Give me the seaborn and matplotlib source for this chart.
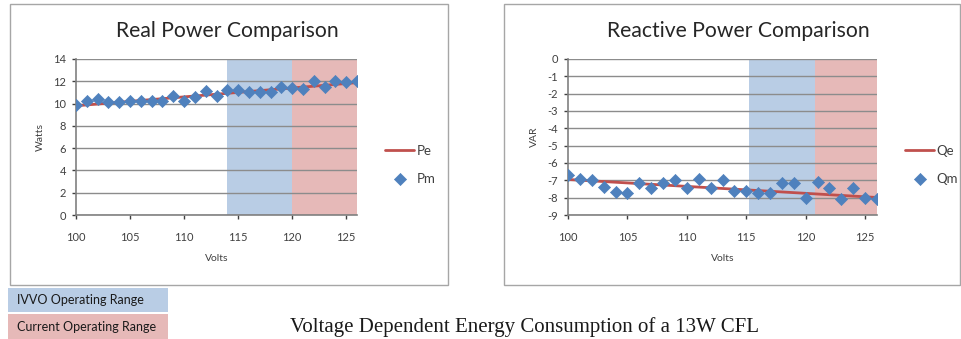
import matplotlib
matplotlib.use('Agg')
import matplotlib.pyplot as plt
from matplotlib.patches import Rectangle
import seaborn as sns
import pandas as pd

volts = list(range(100, 127))

pm = [9.9, 10.2, 10.4, 10.1, 10.1, 10.2, 10.2, 10.2, 10.2, 10.7, 10.2, 10.6, 11.1, 10.7,
      11.2, 11.2, 11.0, 11.0, 11.0, 11.5, 11.4, 11.3, 12.0, 11.5, 12.0, 11.9, 12.0]
pe = [9.80, 9.88, 9.96, 10.04, 10.12, 10.20, 10.28, 10.36, 10.44, 10.52, 10.60, 10.68, 10.76, 10.84,
      10.92, 11.00, 11.08, 11.16, 11.24, 11.32, 11.40, 11.48, 11.56, 11.64, 11.72, 11.80, 11.88]

qm = [-6.69, -6.92, -6.98, -7.37, -7.65, -7.71, -7.17, -7.46, -7.17, -6.98, -7.46, -6.92, -7.46, -6.98,
      -7.60, -7.60, -7.71, -7.71, -7.13, -7.13, -8.04, -7.08, -7.46, -8.10, -7.46, -8.00, -8.08]
qe = [-6.95, -6.99, -7.03, -7.07, -7.11, -7.15, -7.19, -7.23, -7.27, -7.31, -7.35, -7.39, -7.43, -7.47,
      -7.51, -7.55, -7.59, -7.63, -7.67, -7.71, -7.75, -7.79, -7.83, -7.87, -7.91, -7.95, -7.99]

# shaded ranges (volts) as drawn in each chart
ivvo_real = (114, 120)
curr_real = (120, 126)
ivvo_react = (115.25, 120.75)
curr_react = (120.75, 126)

df_real = pd.DataFrame({'Volts': volts, 'Pe': pe, 'Pm': pm})
df_react = pd.DataFrame({'Volts': volts, 'Qe': qe, 'Qm': qm})

sns.set_style('white')
plt.rcParams['font.family'] = ['Lato', 'DejaVu Sans']
plt.rcParams['axes.unicode_minus'] = False

BLUE = '#4f81bd'
RED = '#c0504d'
SHADE_BLUE = '#b9cde5'
SHADE_RED = '#e6b9b8'

fig = plt.figure(figsize=(9.62, 3.39), dpi=100)

# chart frames
fig.add_artist(Rectangle((10 / 962, 1 - 285 / 339), 438 / 962, 281 / 339, transform=fig.transFigure,
                         fill=False, edgecolor='#a6a6a6', lw=1))
fig.add_artist(Rectangle((504 / 962, 1 - 285 / 339), 456 / 962, 281 / 339, transform=fig.transFigure,
                         fill=False, edgecolor='#a6a6a6', lw=1))

ax1 = fig.add_axes([76 / 962, 1 - 215 / 339, 281 / 962, 156 / 339])
ax2 = fig.add_axes([568 / 962, 1 - 215 / 339, 309 / 962, 156 / 339])


def style_axis(ax, ylim, yticks, ivvo, curr, ycol_e, ycol_m, df, title, title_x, ylabel, leg_x):
    ax.axvspan(ivvo[0], ivvo[1], color=SHADE_BLUE, zorder=0.2, lw=0)
    ax.axvspan(curr[0], curr[1], color=SHADE_RED, zorder=0.2, lw=0)
    sns.lineplot(data=df, x='Volts', y=ycol_e, ax=ax, color=RED, lw=2, label=ycol_e, zorder=3)
    sns.scatterplot(data=df, x='Volts', y=ycol_m, ax=ax, color=BLUE, marker='D', s=38,
                    edgecolor=BLUE, label=ycol_m, zorder=4)
    ax.set_xlim(100, 126)
    ax.set_ylim(*ylim)
    ax.set_yticks(yticks)
    ax.set_xticks([100, 105, 110, 115, 120, 125])
    ax.set_axisbelow(True)
    ax.yaxis.grid(True, color='#8c8c8c', lw=1)
    ax.xaxis.grid(False)
    for s in ['top', 'right']:
        ax.spines[s].set_visible(False)
    for s in ['left', 'bottom']:
        ax.spines[s].set_color('#808080')
        ax.spines[s].set_linewidth(1.2)
    ax.tick_params(axis='both', labelsize=8, colors='#404040', length=3, width=1,
                   direction='out', left=True, bottom=True, pad=4)
    ax.tick_params(axis='x', pad=9)
    ax.set_title(title, fontsize=15.2, color='#262626', pad=16, x=title_x)
    ax.set_xlabel('Volts', fontsize=7.5, color='#404040', labelpad=8)
    ax.set_ylabel(ylabel, fontsize=7.5, color='#404040', labelpad=6)
    ax.legend(loc='center left', bbox_to_anchor=(leg_x, 1 - 165 / 339), bbox_transform=fig.transFigure,
              borderaxespad=0, borderpad=0, frameon=False, fontsize=9.5,
              handlelength=2.2, handletextpad=0.2, labelspacing=1.2, labelcolor='#404040')


style_axis(ax1, (0, 14), list(range(0, 15, 2)), ivvo_real, curr_real, 'Pe', 'Pm', df_real,
           'Real Power Comparison', 0.54, 'Watts', 385 / 962)
style_axis(ax2, (-9, 0), list(range(-9, 1)), ivvo_react, curr_react, 'Qe', 'Qm', df_react,
           'Reactive Power Comparison', 0.55, 'VAR', 905 / 962)

# range key boxes
fig.add_artist(Rectangle((8 / 962, 1 - 312 / 339), 160 / 962, 24 / 339, transform=fig.transFigure,
                         facecolor=SHADE_BLUE, edgecolor='none'))
fig.add_artist(Rectangle((8 / 962, 0), 160 / 962, 25 / 339, transform=fig.transFigure,
                         facecolor=SHADE_RED, edgecolor='none'))
fig.text(17 / 962, 1 - 300 / 339, 'IVVO Operating Range', fontsize=9, va='center', color='#1a1a1a')
fig.text(17 / 962, 1 - 327 / 339, 'Current Operating Range', fontsize=9, va='center', color='#1a1a1a')

fig.text(525 / 962, 1 - 327 / 339, 'Voltage Dependent Energy Consumption of a 13W CFL',
         fontsize=15, ha='center', va='center', family=['Liberation Serif', 'DejaVu Serif'],
         color='#1a1a1a')

fig.savefig('out.png', dpi=100)
